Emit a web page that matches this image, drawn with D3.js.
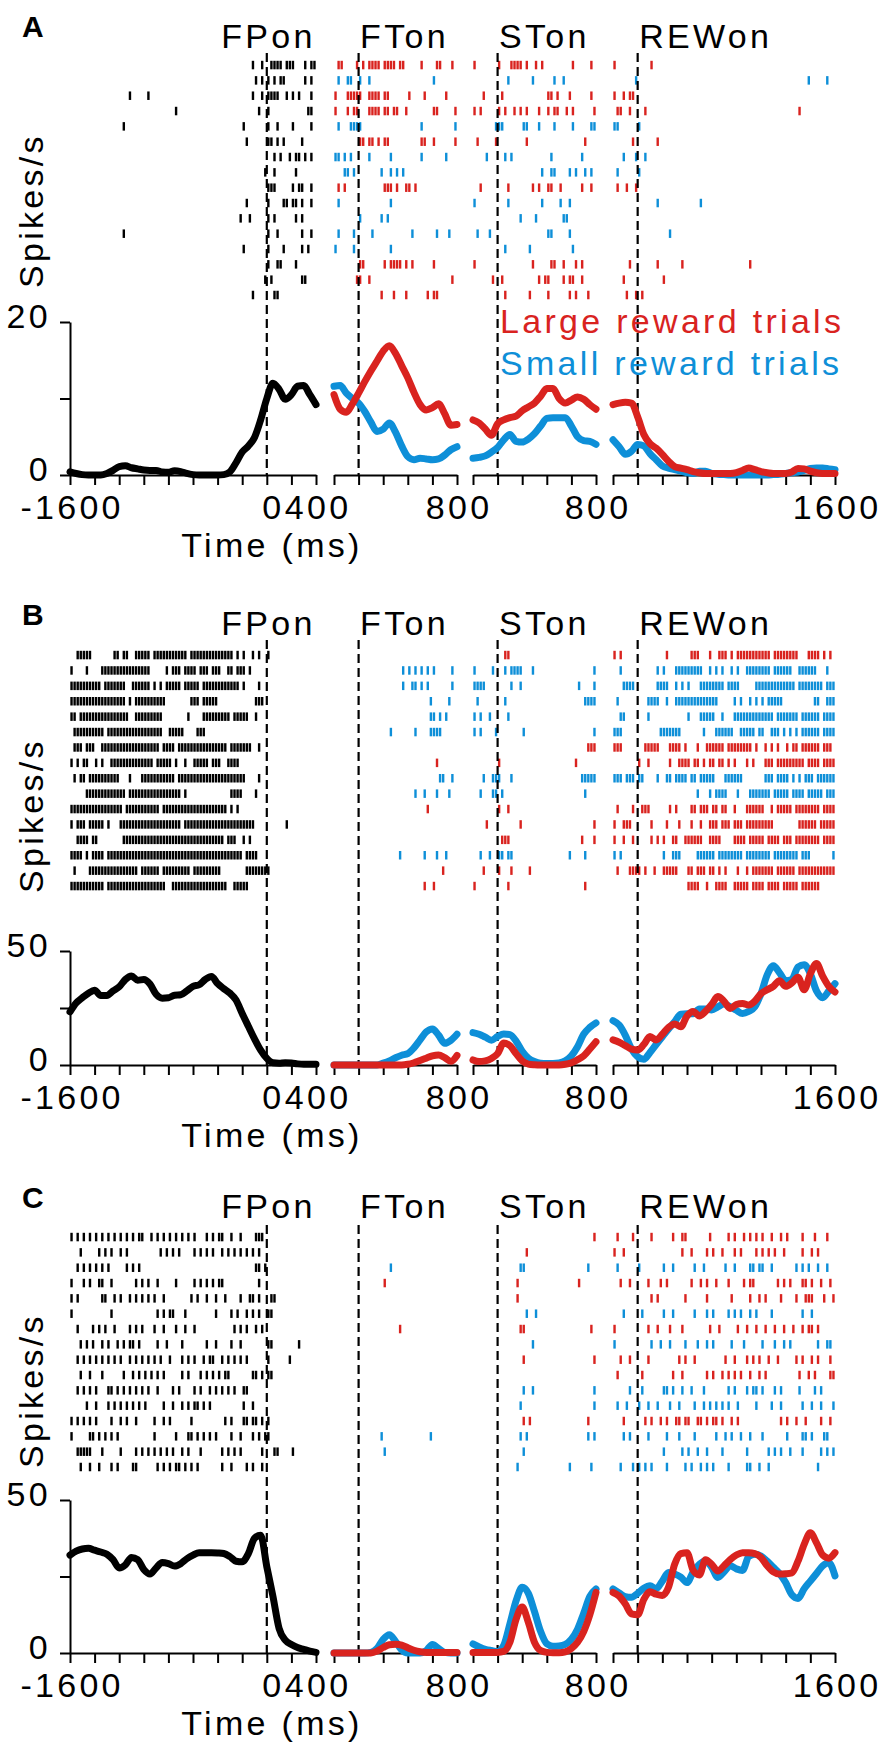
<!DOCTYPE html>
<html>
<head>
<meta charset="utf-8">
<script src="https://cdnjs.cloudflare.com/ajax/libs/d3/7.8.5/d3.min.js"></script>
<style>
  body { margin: 0; background: #fff; }
  svg text { font-family: "Liberation Sans", Arial, Helvetica, sans-serif; }
</style>
</head>
<body>
<svg id="fig" width="892" height="1754"></svg>
<script>
// ---------------- data ----------------
// sample times (ms) of the smoothed firing-rate curves, one array per alignment window
var tFP  = [-1600,-1550,-1500,-1450,-1400,-1350,-1300,-1250,-1200,-1150,-1100,-1050,-1000,-950,-900,-850,-800,-750,-700,-650,-600,-550,-500,-450,-400,-350,-300,-250,-200,-150,-100,-50,0,50,100,150,200,250,300,350,400];
var tFT  = [-200,-150,-100,-50,0,50,100,150,200,250,300,350,400,450,500,550,600,650,700,750,800];
var tST  = [-200,-150,-100,-50,0,50,100,150,200,250,300,350,400,450,500,550,600,650,700,750,800];
var tREW = [-200,-150,-100,-50,0,50,100,150,200,250,300,350,400,450,500,550,600,650,700,750,800,850,900,950,1000,1050,1100,1150,1200,1250,1300,1350,1400,1450,1500,1550,1600];

var eventNames = ["FPon", "FTon", "STon", "REWon"];
var windows = [[-1600, 400], [-200, 800], [-200, 800], [-200, 1600]];
var xLabelTicks = [[-1600, 0, 400], [800], [800], [1600]];
var legendLabels = ["Large reward trials", "Small reward trials"];

// ---- panel A (spikes/s) ----
var psthA_FP = [0.4,0.2,0.05,0,0,0,0.2,0.6,1.1,1.2,0.95,0.8,0.65,0.6,0.6,0.4,0.35,0.55,0.45,0.2,0.05,0,0,0,0,0.05,0.4,1.6,3.0,3.8,4.9,7.2,10,12,11.2,9.9,10.5,11.6,11.7,10.5,9.2];
var psthA_FT_large  = [10.5,8.6,8.2,9.3,10.7,12.2,13.6,14.9,16.2,16.9,15.9,14.3,12.7,10.8,9.2,8.5,8.8,9.3,8.0,6.5,6.6];
var psthA_FT_small  = [11.6,11.7,10.7,10.0,9.4,8.3,6.9,5.7,6.0,6.8,5.6,3.8,2.4,2.0,2.2,2.1,2.0,2.1,2.6,3.3,3.7];
var psthA_ST_large  = [7.2,6.8,6.0,5.2,6.7,7.2,7.5,7.7,8.4,8.9,9.4,10.3,11.3,11.3,10.0,9.4,9.8,10.2,9.9,9.2,8.6];
var psthA_ST_small  = [2.2,2.3,2.5,3.0,3.6,4.6,5.3,4.4,4.3,4.7,5.4,6.4,7.4,7.5,7.5,7.5,6.4,5.0,4.5,4.4,4.0];
var psthA_REW_large = [9.2,9.4,9.5,9.4,7.6,5.3,4.1,3.5,2.7,1.8,1.1,0.9,0.7,0.45,0.3,0.2,0.2,0.2,0.2,0.2,0.3,0.6,0.9,0.7,0.45,0.3,0.2,0.2,0.2,0.4,0.85,0.8,0.5,0.3,0.2,0.2,0.2];
var psthA_REW_small = [4.6,3.7,2.7,3.1,4.0,3.8,2.8,2.0,1.2,0.9,0.7,0.5,0.3,0.2,0.5,0.5,0.2,0.1,0.05,0,0,0,0,0,0,0,0.05,0.1,0.2,0.3,0.4,0.6,0.85,0.9,0.9,0.8,0.7];

// ---- panel B ----
var psthB_FP = [23.3,27.2,29.5,31.5,32.8,30.5,30.5,32.5,34.3,37.5,39.0,37.2,37.5,35.5,31.0,29.3,29.5,30.6,30.8,32.5,34.5,35.2,37.5,38.8,35.7,33.5,31.5,28.5,22.6,17,11.5,6.5,2.9,1.0,0.8,1.0,0.9,0.5,0.3,0.3,0.3];
var psthB_FT_large  = [0,0,0,0,0,0,0,0,0,0,0,0,0.3,1.0,2.0,3.0,4.0,4.4,3.2,1.6,4.2];
var psthB_FT_small  = [0,0,0,0,0,0,0,0,0.8,1.8,3.2,4.3,5.0,7.5,11,14.5,15.8,13.1,9.5,10.8,13.5];
var psthB_ST_large  = [2.2,1.5,1.8,2.9,5.0,9.6,8.5,5.0,1.8,0.4,0.1,0,0,0,0,0.3,1.0,2.3,4.0,7.0,10.2];
var psthB_ST_small  = [14.2,13.5,12.2,10.9,12.5,13.6,13.3,10.5,6.0,3.0,1.5,0.8,0.7,0.7,0.9,1.8,4.0,8.0,13.5,16.5,18.5];
var psthB_REW_large = [11.0,10,8.5,7.0,6.6,9.0,12.5,11.0,13.5,16.5,18.0,16.8,21.5,23.5,21.5,23.5,26.5,30.0,28.0,24.8,26.5,27.0,26.3,28.0,31.3,33.0,34.5,37.0,34.5,36.0,38.5,33.0,40.0,44.5,39.0,34.5,32.0];
var psthB_REW_small = [19.5,17.5,13,7,3.6,2.5,5.5,9.0,12.4,15.8,19.0,22.3,22.5,22.5,24.6,24.6,24.1,25.5,26.8,25.5,24.0,22.6,23.5,25.5,31.3,39.5,43.5,40.5,37.0,37.5,43.0,44.0,40.0,32.5,29.5,32.5,35.7];

// ---- panel C ----
var psthC_FP = [32.0,33.3,34.0,34.2,33.6,33.0,32.3,30.5,27.8,28.8,31.2,30.5,27.3,25.8,27.8,29.6,29.2,28.4,29.2,30.8,32.0,32.8,32.8,32.8,32.7,32.5,31.5,30.0,29.8,32.5,37.5,38.5,28.2,18.5,8.0,4.2,2.8,1.8,1.2,0.6,0.2];
var psthC_FT_large  = [0,0,0,0,0,0,0,0.6,1.8,2.7,2.9,2.6,1.7,0.9,0.4,0.2,0.2,0.2,0.2,0.2,0.2];
var psthC_FT_small  = [0,0,0,0,0,0,0.2,1.5,4.5,6.0,3.8,1.0,0,0,0,0.8,2.8,1.5,0.2,0,0];
var psthC_ST_large  = [0.2,0.2,0.2,0.2,0.2,0.5,3.5,11.0,15.0,10.0,3.5,0.8,0.2,0.1,0.1,0.4,1.5,3.5,7.0,12.5,19.8];
var psthC_ST_small  = [3.0,2.0,1.2,0.8,0.5,2.5,9.5,17.0,21.5,19.5,13.5,7.0,3.0,2.2,2.3,2.8,4.5,7.8,13.0,18.5,20.9];
var psthC_REW_large = [19.8,18.6,16.0,12.8,12.5,17.5,20.0,19.2,18.8,21.5,29.0,32.5,32.8,27.0,25.5,30.5,29.0,26.8,28.5,30.5,32.0,32.8,32.8,32.5,31.2,28.5,26.5,25.8,25.9,26.2,30.0,35.5,39.3,36.0,32.0,31.0,32.8];
var psthC_REW_small = [20.9,19.6,18.4,18.2,19.5,21.2,22.0,21.0,23.5,26.3,25.8,24.8,23.0,26.5,29.0,30.1,28.0,24.7,26.5,28.5,27.5,27.0,31.5,32.3,31.7,30.0,28.0,26.0,23.0,19.0,17.8,21.0,23.5,26.0,28.5,29.5,25.2];

// rasters: one string per trial, one character per 25 ms bin ('|' = spike), groups of 8 bins = 200 ms
// trial type per row: R = large reward, B = small reward
var rowTypeA = "RBRRBRBBRBBBBRRR";
var rasterA_FP = [
 "........ ........ ........ ........ ........ ........ ........ ...|..|. .||||.|| |...|.||",
 "........ ........ ........ ........ ........ ........ ........ ....|.|. |.|.||.. ....|.|.",
 "........ ........ ...|.... .|...... ........ ........ ........ ...|..|. ||||..|. |.|...|.",
 "........ ........ ........ ........ ..|..... ........ ........ .....|.. |....... .....||.",
 "........ ........ .|...... ........ ........ ........ ........ |....... |..|.... |.....|.",
 "........ ........ ........ ........ ........ ........ ........ .|...... ||.|.|.. ...|....",
 "........ ........ ........ ........ ........ ........ ........ ........ ..|.|..| .||.|.|.",
 "........ ........ ........ ........ ........ ........ ........ .......| ..|..... .|......",
 "........ ........ ........ ........ ........ ........ ........ ........ |||..... |.||..|.",
 "........ ........ ........ ........ ........ ........ ........ .|...... |....||. ||.|..|.",
 "........ ........ ........ ........ ........ ........ .......| ..|..... |.|..... .|.|....",
 "........ ........ .|...... ........ ........ ........ ........ ........ |..|.... ...|..|.",
 "........ ........ ........ ........ ........ ........ ........ |....... |....|.. ...|.|..",
 "........ ........ ........ ........ ........ ........ ........ ........ |..||... .|......",
 "........ ........ ........ ........ ........ ........ ........ .......| .|...... ...||...",
 "........ ........ ........ ........ ........ ........ ........ ...|.... ..||...."
];
var rasterA_FT = [
 ".||....| .|.||||. ||||.||. ....|... .||...|.",
 ".|..||.. |..|.... ........ ........ |.......",
 "|...|||| |..||||. ||...... |....|.. ....|...",
 "|...|.|| ...||||. ||.||..| ........ ||.....|",
 ".|...||| |....... ........ ....|... .......|",
 "........ ||.||.|. ||...... ....||.. |......|",
 "||.|.|.. ...|.... ..|..... ....|... ....|...",
 "...||.|. .......| ..|.|.|.",
 ".|.|.... ........ |||.|..| |.|.....",
 ".|...... ........ ..|.....",
 "........ |......| .|......",
 ".|....|. ....|... ........ .|...... .|...|..",
 "|.....|. ........ ..|.....",
 "........ ||...... |.||||.| .|...... |.......",
 ".......| |..|.... ........ ........ ......|.",
 "........ .......| ...|...| ......|. ||......"
];
var rasterA_ST = [
 "|....... |...|||| .|..|.|. ........ |.....|.",
 "........ ...|.... ...|.... ..|..|..",
 "...|.... .|...... ........ ||.|...| ......|.",
 "|.|..... |.|..|.| .|...|.. |.||..|. |......|",
 ".......| ||...... ||...|.. ..|..... |.....||",
 ".|.....| ........ .|...... ........ ....|...",
 "....|... ..|.|... ........ .|...... ...|....",
 "........ ........ ......|. .||....| .|..|.|.",
 "..|..... ...|.... ...|.|.. ||..|... ...|..|.",
 "|....... ...|.... ......|. ....|..|",
 "........ .......| ....|... .....||.",
 ".|...|.. ........ ........ ||.....|",
 "........ ..|..... ..|..... ........ |.......",
 "|....... ........ ...|.... .||..|.. .|.|....",
 "......|. .|...... .....|.| |....|.| |..|....",
 "........ ..|..... ..|..... |......| .|...|.."
];
var rasterA_REW = [
 "|....... ....|...",
 ".......| ........ ........ ........ ........ ........ ........ .......| .....|..",
 "|..|.||.",
 ".||..|.. ..|..... ........ ........ ........ ........ ........ ....|...",
 "||...... |.......",
 "......|. ......|.",
 "...|...| ..|.....",
 ".|...... |.......",
 ".|..|..|",
 "........ ......|. ........ ....|...",
 "",
 "........ ........ ..|.....",
 "",
 ".....|.. ......|. ......|. ........ ........ ....|...",
 "...|.... ........ |.......",
 "....|..| .|......"
];

var rowTypeB = "RBBBBBRRBBRRRBRR";
var rasterB_FP = [
 "..|||||. ......|| .||..||| ||.||||| ||||||.| |||||||| |||||.|. |..|.|.. |.......",
 "|....|.. ..|||||| |||||||| ||.....| .|||.||| |.|||.|| |..||.|| |.|.....",
 "|||||||| ||.||||| ||..|||| ||.|.|.| ||||.||| ||.||||| |||||||. |....|..",
 "|||||||| |||||||| ||.|.||| |||||||. .......| ||.||||| ........ ....|||.",
 "||.||||| |||||||| |||..||| ||||||.. ......|. ...||||| ||||.||| ||..|...",
 ".||||||| |||.|||| |||||||| ||||||.. |||||... .|||....",
 ".|||.||| ..|||||| |||||||| |||||.|| ||.||||| |||||||| |||.|||| |||..|..",
 "|.|.||.. |.|..||| |||||||| |||.|||| |.|..|.. |||||.|| |..||||.",
 ".|.||.|| |||||||| ...|...| |||||||| ||.||||| |||||||| |||||||| |....|..",
 ".....||| |||||||| ||.||||| |||||||| ||||.|.. ........ ....|||| ....|...",
 "|||||||| |||||||| |.|||||| |||||.|| |||||||| |||||||| |||.|.|.",
 "|.|||.|| |||.|... |||||||| |||||||| ||||.||| |||||||| |||||||| ||||.... ......|.",
 "..||||.| |....... .||||||| |||||||| |||||||| |||||||| ||.|||.. |.|.....",
 "||||.|.| |||.|||| |||||||| |||||||| |||||||| |||||||| |||||||| .||||...",
 ".|....|| |||||||| ||||||.| |||||.|| |||||||. |||||||| |....... .||||||| |.......",
 "|||||||| |||.|||| |||||||| |||||||. .||||||| |||||||| |||..||| ||......"
];
var rasterB_FT = [
 "",
 "........ ........ ......|. |.|.|.|. |.....|.",
 "........ ........ ......|. .||.|.|. ......|.",
 "........ ........ ........ .......| .....|..",
 "........ ........ ........ .......| |.|.|...",
 "........ ........ ..|..... ..|....| |||.....",
 "",
 "........ ........ ........ ........ .|......",
 "........ ........ ........ ........ ..||..|.",
 "........ ........ ........ ..|..|.. .|...|..",
 "........ ........ ........ ......|.",
 "",
 "",
 "........ ........ .....|.. .....|.. .|..|...",
 "........ ........ ........ ........ ...|....",
 "........ ........ ........ .....|.. |......."
];
var rasterB_ST = [
 "........ ..||....",
 "|.....|. ..|.|||| ...|.... ........ .......|",
 "||||.... ....|..| ........ ........ ..|....|",
 ".|...... ..|..... ........ ........ ....||||",
 "|.|..|.. ...|....",
 "|.|....| ........ |....... ........ .......|",
 "........ ........ ........ ........ .....|||",
 "........ |....... ........ ........ .|......",
 "...|..|| |...|... ........ ........ ...|||||",
 "..|...|| .|...... ........ ........ ....|...",
 "........ |..|....",
 "....|... .......| ........ ........ .......|",
 "........ .|||.... ........ ........ ...|...|",
 "..|..|.. ||.||... ........ .......| ....|...",
 "...|.... |...|... ..|.....",
 "|....... ...|.... ........ ........ ....|..."
];
var rasterB_REW = [
 "|.|..... ........ .|...... .|||...| ..|||.|. |||||||| |||.|||| ||||...| |||.|.|.",
 "..|..... ......|. |...|||| |||||..| .|.|..|. |..||||| |||.|||| ||..|||| ||...|..",
 "...||||. ......|| ||..|.|. |...|||| ||||.||| |.....|| |||||||| |||.|||| ||||.|||",
 ".|...... ...||||. .|..|||| |||||||| ||.....| .|..|.|. |.|||||. ........ .||..|||",
 "..||.... ...|.... ........ |...|||| |..|...| |||||||| ||||.||| ||||.||| |||.||||",
 "|||..... .......| ||||||.. .....|.. .||||||. .|||||.| |..|||.| .|.|.||| |||.||||",
 "|||..... ..|||||. ..||||.| ...|..|| ||||.||| |||||.|. .|.|.|.. |.||.||| |||.|||.",
 "........ |..|.... ..|..||| |.||.|.| |.||.|.| ...|.|.. .|||.||| ||||||.| |||.||||",
 "|||.|||. ||....|. .||.|||| .||.|||| |...|||| ||...... .|||.||| |.|.|.|| |.||||||",
 "........ ........ ........ ...|...| .||||... |...|||| |||.|||| |.||||.| ||||.|||",
 ".|....|. .|||.... ..|.|... .||.|||. ||.||..| ...||||| |..|.||| ||.||||| |||.||||",
 "|..|||.. ....|... .|...|.. .|..|..| ||.|||.| ||.||||| ||||.... ....|||| ||.|||||",
 "|..|..|. ....|.|. |..||..| |||||..| |||....| |||.|||| |.||||.| ||.||||| |||.||||",
 "|.|..... ........ |..|||.. ...||||| |.|||||| ||.||||| |||.|||| ||||.||| .......|",
 ".|...||| |.|..|.. |||||... ||.|||.| |.|.|... |..|.||| ||||.||| |||.|||| ||||||||",
 "........ ........ ........ ||||..|. .||||..| ||||.||| |.||||.| ||||.||| |||....."
];

var rowTypeC = "RRBRRBRBRRBBRBBB";
var rasterC_FP = [
 "|.|.|.|. |.|.|.|. |.|.|.|| ..|.|.|. |.|.|.|. |...|.|. ||..|..| ....|||.",
 "...|.... .|.|.|.. |.|..... .....|.| .|.|.... |.|.|.|. .|.|.|.| .|.|.|..",
 "..|.|.|. |.|.|... ..|.|.|. ........ ........ ........ ........ ....||.|",
 "|...|.|. .||..|.. .....|.| .|..|... ..|..... |.|.|.|. ||...... .....|..",
 "|.|..... ..||..|. |..|.|.| .|.|..|. .......| .|..|..| ..|....| ..||.|.. .||.....",
 "|....... .....|.. ........ ....|.|. ||...|.. .......| ....|.|. .|.|.|.. ||......",
 "..|....| .|.|..|. ...|.|.| ...|..|. ..|..|.. |....... .....|.| .|..|.|.",
 "...|.|.| ..|.|..| .|.||.|. ....|..| ....|... ....|..| ....|..| ........ ||...... ..|.....",
 "..|.|.|. |.|.|.|. |..|.|.| .|.|.|.. |...|.|. |..|.||. .|.|.|.| .|...... |......|",
 "...|..|. ..|..... .|..|.|. |.|.|.|. ....|.|. ..|.|.|. |.||.... ...||.|. ||......",
 "..|.|.|. |...||.| .|.|.|.| .|..|... .|.|.... |.|..|.| .|.|.|.. ||......",
 ".....|.. |...|.|. |.|.|.|. |.....|. .|..|.|. ||.|.|.. ........ |..|....",
 "|.|.|.|. |....|.. |.|..|.. ...|..|. |......| ........ ..|.|... ||.||.|. |.......",
 "|.....|| .|.|.|.| ........ ...|.... ..|...|| .|.|.|.| ....|..| ...|.|.| |.......",
 "..|||||. ..|..... |....|.| .|.|.|.| .|..|.|. ..|..... .|.|.|.| ......|. ..||.... |.......",
 "...|..|. .|...|.| ....||.. ....|.|. |.||.|.| .|...... .|..|... .|.|..|."
];
var rasterC_FT = [
 "",
 "",
 "........ ........ ..|.....",
 "........ ........ |.......",
 "",
 "",
 "........ ........ .....|..",
 "", "", "", "", "", "",
 "........ .......| ........ .......|",
 "........ ........ |.......",
 ""
];
var rasterC_ST = [
 "........ ........ ........ ........ .......|",
 "........ ........ .|......",
 "........ .......| |....... ........ .....|..",
 "........ ......|. ........ ........ ..|.....",
 "........ ......|.",
 "........ ........ .|..|...",
 "........ .......| |....... ........ ......|.",
 "........ ........ ...|....",
 "........ ........ |....... ........ .......|",
 "",
 "........ ........ |..|.... ........ .......|",
 "........ .......| ........ ........ .......|",
 "........ ........ |.|..... ........ .....|..",
 "........ .......| .|...... ........ .....|.|",
 "........ ........ |.......",
 "........ ......|. ........ .......| ......|."
];
var rasterC_REW = [
 ".|....|. ....|... ...|..|| .......| .....|.| ..|.|.|. |..|..|. |....|.. .|...|..",
 "|..|.... ........ ......|. .|....|. |..|...| .|....|. |.|.|..| .....|.. |.|.....",
 ".|...... |....... |..|.... ..|..|.. ....|..| ....||.| |..|.... ...|.|.| ..|..|..",
 "..|..|.. ...|...| .|...... .|..|.|. .|...|.. ..|.||.. .....|.| .|...||. |..|..|.",
 "........ ....|.|. .......| ......|. ......|. ....|..| .|....|. ...|..|| |...|..|",
 "...|.... .|...... |..|.... ..|...|. |....|.| .|..|.|. ...|.... .....|.. |.......",
 "|....... ...|..|. ..|...|. .......| ..|..... |..|..|. .|..|..| ..|..|.| |.|.....",
 "|....... ....|..| ..|....| ...|..|. |.....|. ..|..... |...|..| .|...... ..|..||.",
 "..|..|.. ...|.... .....|.| ..|..... ....|..| ...|.|.| ..|..|.. ...|.|.. |.|...|.",
 ".|...... .|...... ...|..|. ......|. |..|.|.| .|..|..| .|...... ....|..| .|....||",
 ".....|.. .|...... ||.|..|. .|...|.. .....|.| ...|.||. |...|.|. ....|... .|.|....",
 ".|..|... |..|..|. ..|..|.. ..|..|.| .|.|.|.. |.....|. ...|..|. .....|.. |..|...|",
 "...|.... ..|.|..| .|..||.| |..||.|. ||.|..|. |....... ......|. |..|..|. ...|..|.",
 "...|.|.. ...|.... .|...|.. ..|..... .|..|.|. .|..|... |....... |....||. |...||..",
 "........ ........ |.....|. |..|..|. ...|.... ...|.... ..|.|.|. .|...|.. ...|.|.|",
 "..|...|. |.|.|... .|.....| .|..|.|. |....|.. ...||..| ..|..... ........ ..|....."
];

// ---------------- layout ----------------
var RED = "#d9231f", BLUE = "#0e8fd8";
var FONT = 34, SPACING = "3.3px";
var segRanges = [[70, 316], [334, 457], [473, 596], [613, 835]];
var panelLayout = [
  {rowTop: 65,   rowStep: 15.33, y0: 475,  y1: 322,  title: 37,   label: 48,   dashTop: 53,   ylab: 288},
  {rowTop: 655,  rowStep: 15.4,  y0: 1065, y1: 951,  title: 625,  label: 635,  dashTop: 640,  ylab: 893},
  {rowTop: 1237, rowStep: 15.33, y0: 1653, y1: 1500, title: 1208, label: 1218, dashTop: 1225, ylab: 1468}
];

var panels = [
  {letter: "A", yMax: 20, rowType: rowTypeA,
   raster: [rasterA_FP, rasterA_FT, rasterA_ST, rasterA_REW],
   black: psthA_FP,
   large: [psthA_FT_large, psthA_ST_large, psthA_REW_large],
   small: [psthA_FT_small, psthA_ST_small, psthA_REW_small], legend: true},
  {letter: "B", yMax: 50, rowType: rowTypeB,
   raster: [rasterB_FP, rasterB_FT, rasterB_ST, rasterB_REW],
   black: psthB_FP,
   large: [psthB_FT_large, psthB_ST_large, psthB_REW_large],
   small: [psthB_FT_small, psthB_ST_small, psthB_REW_small], legend: false},
  {letter: "C", yMax: 50, rowType: rowTypeC,
   raster: [rasterC_FP, rasterC_FT, rasterC_ST, rasterC_REW],
   black: psthC_FP,
   large: [psthC_FT_large, psthC_ST_large, psthC_REW_large],
   small: [psthC_FT_small, psthC_ST_small, psthC_REW_small], legend: false}
];
var segTimes = [tFP, tFT, tST, tREW];

var svg = d3.select("#fig");
var xScales = windows.map(function(w, k) {
  return d3.scaleLinear().domain(w).range(segRanges[k]);
});

// spike times from a raster string
function spikeTimes(str, t0) {
  var s = str.replace(/\s/g, ""), out = [];
  for (var i = 0; i < s.length; i++) if (s[i] === "|") out.push(t0 + 25 * i + 12.5);
  return out;
}

function styleAxis(g) {
  g.attr("font-size", null).attr("font-family", null);
  g.selectAll("path, line").attr("stroke", "#000").attr("stroke-width", 2);
  g.selectAll("text").attr("fill", "#000")
    .style("font-size", FONT + "px").style("letter-spacing", SPACING);
}

panels.forEach(function(p, pi) {
  var L = panelLayout[pi];
  var g = svg.append("g").attr("class", "panel-" + p.letter);
  var y = d3.scaleLinear().domain([0, p.yMax]).range([L.y0, L.y1]);

  // panel letter
  g.append("text").attr("x", 22).attr("y", L.title)
    .style("font-size", "30px").style("font-weight", "bold").text(p.letter);

  // rasters
  p.raster.forEach(function(rows, k) {
    var xs = xScales[k];
    rows.forEach(function(str, r) {
      var col = k === 0 ? "#000" : (p.rowType[r] === "R" ? RED : BLUE);
      var ry = L.rowTop + r * L.rowStep;
      g.append("g").selectAll("rect")
        .data(spikeTimes(str, windows[k][0]))
        .enter().append("rect")
          .attr("x", function(t) { return xs(t) - 1.2; })
          .attr("y", ry - 4.2)
          .attr("width", 2.4)
          .attr("height", 8.5)
          .attr("fill", col);
    });
  });

  // event lines and names
  eventNames.forEach(function(name, k) {
    var x0 = xScales[k](0);
    g.append("line")
      .attr("x1", x0).attr("x2", x0)
      .attr("y1", L.dashTop).attr("y2", L.y0)
      .attr("stroke", "#000").attr("stroke-width", 2.2)
      .attr("stroke-dasharray", "9,5");
    g.append("text")
      .attr("x", k === 0 ? x0 + 1.6 : x0 + 1.5)
      .attr("y", L.label)
      .attr("text-anchor", k === 0 ? "middle" : "start")
      .style("font-size", FONT + "px").style("letter-spacing", SPACING)
      .text(name);
  });

  // axes
  var yAxis = d3.axisLeft(y).tickValues([0, p.yMax / 2, p.yMax])
    .tickSize(10).tickSizeOuter(0).tickPadding(9)
    .tickFormat(function(d) { return d === p.yMax / 2 ? "" : d; });
  g.append("g").attr("transform", "translate(" + segRanges[0][0] + ",0)")
    .call(yAxis).call(styleAxis)
    .selectAll("text").attr("dy", "0.17em");

  windows.forEach(function(w, k) {
    var ax = d3.axisBottom(xScales[k])
      .tickValues(d3.range(w[0], w[1] + 1, 200))
      .tickSize(10).tickSizeOuter(0).tickPadding(10)
      .tickFormat(function(d) { return xLabelTicks[k].indexOf(d) >= 0 ? String(d) : ""; });
    g.append("g").attr("transform", "translate(0," + L.y0 + ")")
      .call(ax).call(styleAxis)
      .selectAll("text")
        .attr("dx", function(d) { return (k === 0 && d === 0) ? "6px" : "1.6px"; });
  });

  g.append("text").attr("x", 272).attr("y", L.y0 + 82)
    .attr("text-anchor", "middle")
    .style("font-size", FONT + "px").style("letter-spacing", SPACING)
    .text("Time (ms)");

  g.append("text")
    .attr("transform", "translate(43," + L.ylab + ") rotate(-90)")
    .style("font-size", FONT + "px").style("letter-spacing", SPACING)
    .text("Spikes/s");

  // firing-rate curves
  function drawCurve(vals, k, col) {
    var times = segTimes[k];
    var line = d3.line()
      .x(function(d, i) { return xScales[k](times[i]); })
      .y(function(d) { return y(d); })
      .curve(d3.curveMonotoneX);
    g.append("path").datum(vals)
      .attr("d", line)
      .attr("fill", "none")
      .attr("stroke", col)
      .attr("stroke-width", 7)
      .attr("stroke-linecap", "round")
      .attr("stroke-linejoin", "round");
  }
  drawCurve(p.black, 0, "#000");
  for (var k = 1; k < 4; k++) {
    drawCurve(p.small[k - 1], k, BLUE);
    drawCurve(p.large[k - 1], k, RED);
  }

  if (p.legend) {
    g.append("text").attr("x", 500).attr("y", 333).attr("fill", RED)
      .style("font-size", FONT + "px").style("letter-spacing", SPACING)
      .text(legendLabels[0]);
    g.append("text").attr("x", 500).attr("y", 375).attr("fill", BLUE)
      .style("font-size", FONT + "px").style("letter-spacing", SPACING)
      .text(legendLabels[1]);
  }
});
</script>
</body>
</html>
